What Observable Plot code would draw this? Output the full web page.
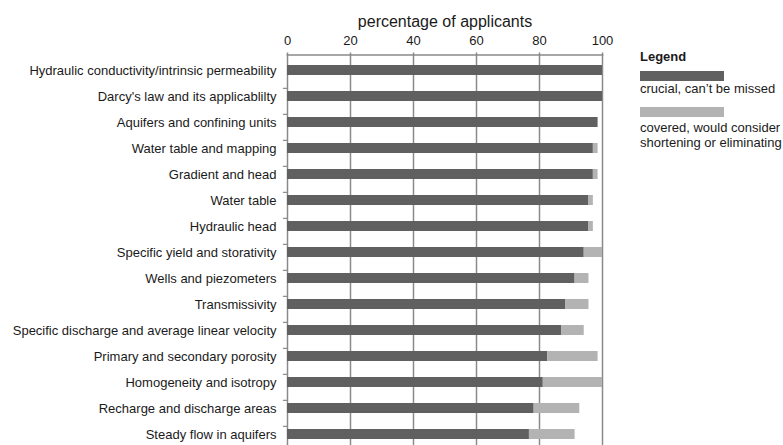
<!DOCTYPE html>
<html><head><meta charset="utf-8">
<script src="https://cdn.jsdelivr.net/npm/d3@7"></script>
<script src="https://cdn.jsdelivr.net/npm/@observablehq/plot@0.6"></script>
<style>
html,body{margin:0;padding:0;background:#fff;overflow:hidden;}
#wrap{position:relative;width:783px;height:445px;overflow:hidden;font-family:"Liberation Sans",Arial,sans-serif;color:#1a1a1a;}
#legend{position:absolute;left:640px;top:0;width:143px;font-size:13px;}
#legend .t{position:absolute;left:0;white-space:nowrap;line-height:15px;}
#legend .sw{position:absolute;left:0;width:84px;height:10px;}
</style></head>
<body><div id="wrap"><div id="chart"></div><div id="legend"></div></div>
<script>
const topics = [
  "Hydraulic conductivity/intrinsic permeability",
  "Darcy's law and its applicablilty",
  "Aquifers and confining units",
  "Water table and mapping",
  "Gradient and head",
  "Water table",
  "Hydraulic head",
  "Specific yield and storativity",
  "Wells and piezometers",
  "Transmissivity",
  "Specific discharge and average linear velocity",
  "Primary and secondary porosity",
  "Homogeneity and isotropy",
  "Recharge and discharge areas",
  "Steady flow in aquifers"
];
const crucial = [100, 100, 98.6, 97.1, 97.1, 95.7, 95.7, 94.2, 91.3, 88.4, 87.0, 82.6, 81.2, 78.3, 76.8];
const covered = [0, 0, 0, 1.5, 1.5, 1.4, 1.4, 5.8, 4.4, 7.3, 7.2, 16.0, 18.8, 14.5, 14.5];
const xTicks = [0, 20, 40, 60, 80, 100];
const seriesNames = ["crucial, can\u2019t be missed", "covered, would consider shortening or eliminating"];
const seriesColors = ["#606060", "#b3b3b3"];
const xLabel = "percentage of applicants";
const legendTitle = "Legend";

const rows = topics.flatMap((t, i) => [
  {topic: t, series: seriesNames[0], value: crucial[i]},
  {topic: t, series: seriesNames[1], value: covered[i]}
]);

const padOuter = 0.31;
const font = '"Liberation Sans", Arial, sans-serif';
const H = 448.5, MT = 54.5;
const step = (H - MT) / topics.length;
const plot = Plot.plot({
  width: 783, height: H,
  marginTop: MT, marginLeft: 287, marginRight: 181, marginBottom: 0,
  style: {fontFamily: font, fontSize: "13px", color: "#1a1a1a", background: "transparent", overflow: "visible"},
  x: {domain: [0, 100], axis: null},
  y: {domain: topics, paddingInner: 0.62, paddingOuter: padOuter, axis: null},
  color: {domain: seriesNames, range: seriesColors},
  marks: [
    Plot.ruleX(xTicks, {stroke: "#8a8a8a", strokeWidth: 1.5}),
    Plot.ruleY(topics.slice(1), {y: d => d, x1: -1.3, x2: 0, dy: -padOuter * step, stroke: "#8a8a8a", strokeWidth: 1.2}),
    Plot.barX(rows, Plot.stackX({x: "value", y: "topic", fill: "series"})),
    Plot.frame({anchor: "top", stroke: "#8a8a8a", strokeWidth: 1.5}),
    Plot.axisX({anchor: "top", ticks: xTicks, tickSize: 3, tickPadding: 7, stroke: "#8a8a8a", strokeWidth: 1.5, fontSize: 13, label: null}),
    Plot.axisY({anchor: "left", tickSize: 0, tickPadding: 11, fontSize: 13, label: null}),
    Plot.text([xLabel], {frameAnchor: "top", dy: -39, fontSize: 16, text: d => d})
  ]
});
document.getElementById("chart").appendChild(plot);

// HTML legend to the right of the plot
const lg = document.getElementById("legend");
function add(cls, top, html, bg) {
  const d = document.createElement("div");
  d.className = cls; d.style.top = top + "px";
  if (html) d.innerHTML = html;
  if (bg) d.style.background = bg;
  lg.appendChild(d);
}
add("t", 48.5, "<b>" + legendTitle + "</b>");
add("sw", 70.5, null, seriesColors[0]);
add("t", 81, seriesNames[0]);
add("sw", 107, null, seriesColors[1]);
add("t", 120, "covered, would consider<br>shortening or eliminating");
</script>
</body></html>
